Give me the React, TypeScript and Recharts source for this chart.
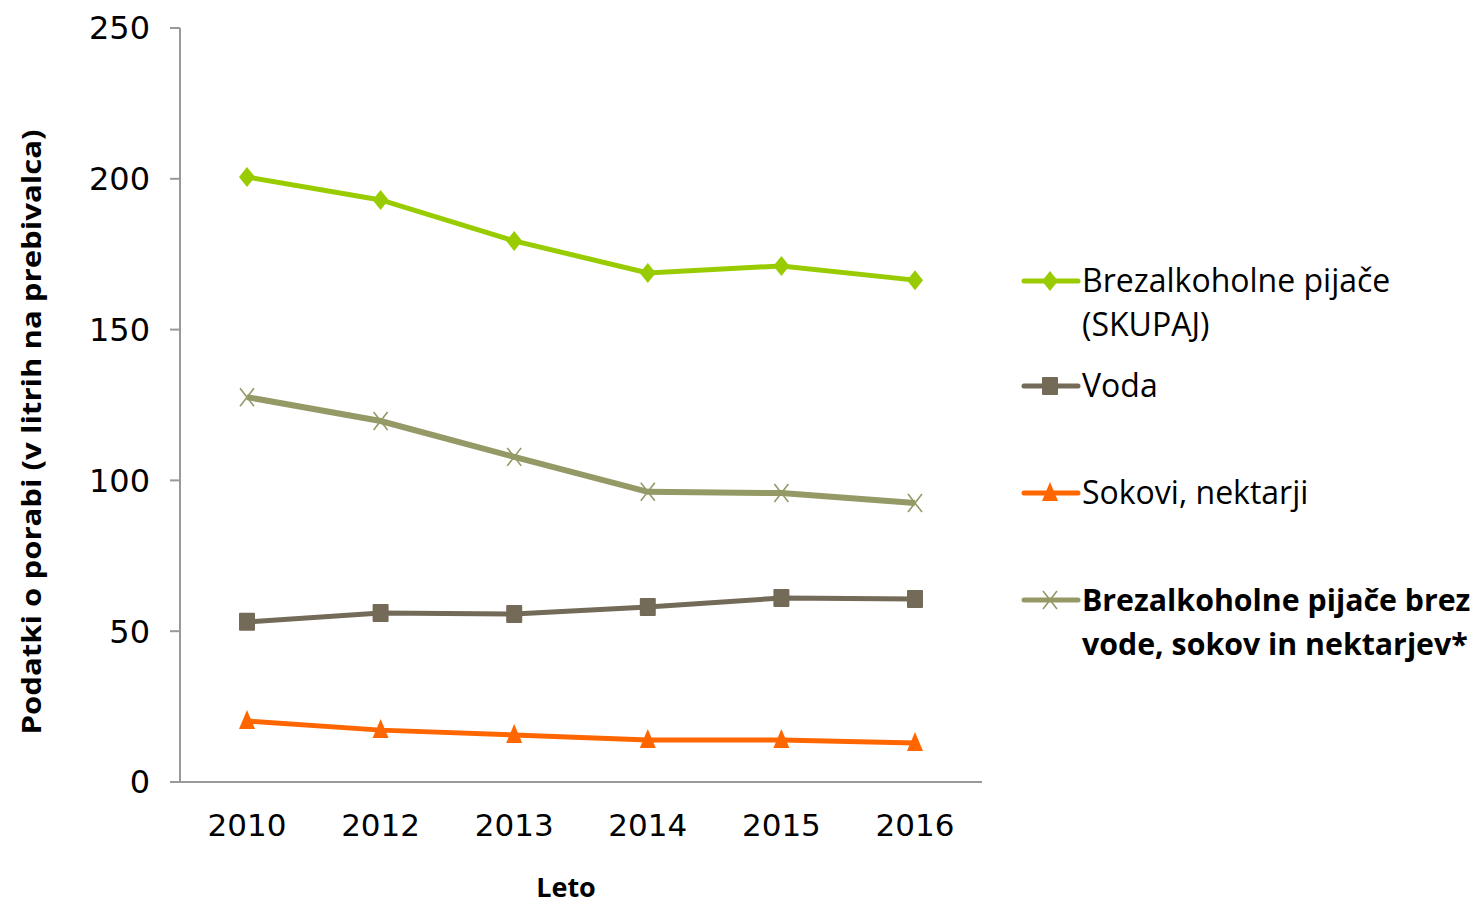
import React from 'react';
import { LineChart, Line, XAxis, YAxis } from 'recharts';

const years = ['2010', '2012', '2013', '2014', '2015', '2016'];
const skupaj = [200.6, 193.0, 179.4, 168.8, 171.1, 166.4];
const voda = [53.1, 56.0, 55.7, 58.0, 61.0, 60.7];
const sokovi = [20.2, 17.2, 15.6, 13.9, 13.9, 12.9];
const brez = [127.6, 119.7, 107.8, 96.2, 95.8, 92.5];
const yTicks = [0, 50, 100, 150, 200, 250];

const data = years.map((y, i) => ({
  year: y,
  skupaj: skupaj[i],
  voda: voda[i],
  sokovi: sokovi[i],
  brez: brez[i],
}));

const GREEN = '#99CC00';
const BROWN = '#746A58';
const ORANGE = '#FF6600';
const OLIVE = '#959966';

type Shape = 'diamond' | 'square' | 'triangle' | 'cross';

const Marker = ({ shape, cx, cy, color }: { shape: Shape; cx: number; cy: number; color: string }) => {
  if (shape === 'diamond') {
    return <polygon points={`${cx},${cy - 10} ${cx + 8},${cy} ${cx},${cy + 10} ${cx - 8},${cy}`} fill={color} />;
  }
  if (shape === 'square') {
    return <rect x={cx - 8} y={cy - 9} width={16} height={18} fill={color} rx={1} />;
  }
  if (shape === 'triangle') {
    return <polygon points={`${cx},${cy - 11} ${cx + 8},${cy + 8} ${cx - 8},${cy + 8}`} fill={color} />;
  }
  return (
    <g stroke={color} strokeWidth={1.6}>
      <line x1={cx - 7} y1={cy - 9} x2={cx + 7} y2={cy + 9} />
      <line x1={cx - 7} y1={cy + 9} x2={cx + 7} y2={cy - 9} />
    </g>
  );
};

const makeDot = (shape: Shape, color: string) => (props: any) => {
  const { cx, cy, index } = props;
  if (cx == null || cy == null) return <g key={index} />;
  return <Marker key={index} shape={shape} cx={cx} cy={cy} color={color} />;
};

const legendItems: { lines: string[]; color: string; shape: Shape; bold: boolean; top: number; sw: number }[] = [
  { lines: ['Brezalkoholne pijače', '(SKUPAJ)'], color: GREEN, shape: 'diamond', bold: false, top: 281, sw: 5 },
  { lines: ['Voda'], color: BROWN, shape: 'square', bold: false, top: 386, sw: 5 },
  { lines: ['Sokovi, nektarji'], color: ORANGE, shape: 'triangle', bold: false, top: 493, sw: 5 },
  { lines: ['Brezalkoholne pijače brez', 'vode, sokov in nektarjev*'], color: OLIVE, shape: 'cross', bold: true, top: 600, sw: 5 },
];

const LegendBlock = () => (
  <svg width={470} height={420} style={{ position: 'absolute', left: 1020, top: 260, overflow: 'visible' }}>
    {legendItems.map((it, i) => {
      const y = it.top - 260;
      return (
        <g key={i}>
          <line x1={4} x2={58} y1={y} y2={y} stroke={it.color} strokeWidth={it.sw} strokeLinecap="round" />
          <Marker shape={it.shape} cx={30} cy={y} color={it.color} />
          {it.lines.map((l, j) => (
            <text
              key={j}
              x={62}
              y={y + j * 44}
              dy="0.35em"
              fontFamily="'Open Sans', sans-serif"
              fontSize={it.bold ? 30.3 : 32}
              fontWeight={it.bold ? 700 : 400}
              fill="#000"
            >
              {l}
            </text>
          ))}
        </g>
      );
    })}
  </svg>
);

const YLabel = () => (
  <text
    transform="translate(30, 432) rotate(-90)"
    textAnchor="middle"
    dominantBaseline="central"
    fontFamily="'Open Sans', sans-serif"
    fontSize={27}
    fontWeight={700}
    fill="#000"
    textLength={605}
    lengthAdjust="spacingAndGlyphs"
  >
    Podatki  o porabi (v litrih na prebivalca)
  </text>
);

const XLabel = () => (
  <text
    x={566}
    y={886}
    textAnchor="middle"
    dominantBaseline="central"
    fontFamily="'Open Sans', sans-serif"
    fontSize={27}
    fontWeight={700}
    fill="#000"
  >
    Leto
  </text>
);

export default function App() {
  return (
    <div style={{ position: 'absolute', left: 0, top: 0, width: 1481, height: 903, background: '#fff' }}>
      <LineChart width={1481} height={903} data={data} margin={{ top: 28, right: 499, bottom: 61, left: 80 }}>
        <XAxis
          dataKey="year"
          axisLine={{ stroke: '#999999', strokeWidth: 2 }}
          tickLine={false}
          height={60}
          padding={{ left: 67, right: 67 }}
          tick={{ fontFamily: "'DejaVu Sans', sans-serif", fontSize: 31, fill: '#000' }}
          tickMargin={26}
          label={<XLabel />}
        />
        <YAxis
          domain={[0, 250]}
          ticks={yTicks}
          width={100}
          axisLine={{ stroke: '#999999', strokeWidth: 2 }}
          tickLine={{ stroke: '#999999', strokeWidth: 2 }}
          tickSize={10}
          tickMargin={20}
          tick={{ fontFamily: "'DejaVu Sans', sans-serif", fontSize: 32, fill: '#000' }}
          label={<YLabel />}
        />
        <Line dataKey="skupaj" stroke={GREEN} strokeWidth={5} dot={makeDot('diamond', GREEN)} isAnimationActive={false} />
        <Line dataKey="brez" stroke={OLIVE} strokeWidth={6} dot={makeDot('cross', OLIVE)} isAnimationActive={false} />
        <Line dataKey="voda" stroke={BROWN} strokeWidth={5} dot={makeDot('square', BROWN)} isAnimationActive={false} />
        <Line dataKey="sokovi" stroke={ORANGE} strokeWidth={5} dot={makeDot('triangle', ORANGE)} isAnimationActive={false} />
      </LineChart>
      <LegendBlock />
    </div>
  );
}
